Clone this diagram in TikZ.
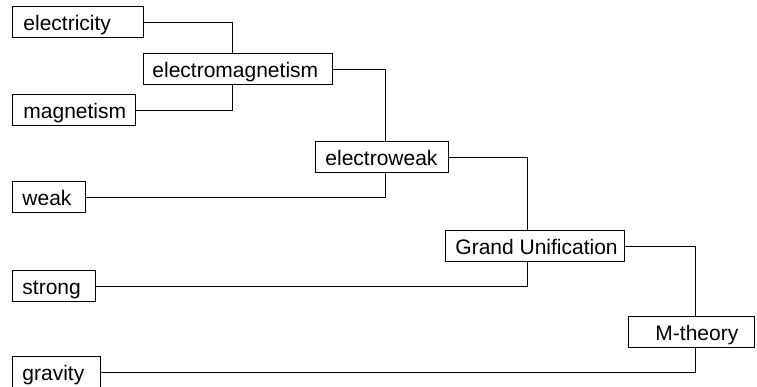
\documentclass[tikz,border=0pt]{standalone}
\usepackage{fontspec}
\setmainfont{Liberation Sans}
\newcommand\boxtext[3]{\makebox[#1pt][l]{\hspace*{#2pt}#3}}
\begin{document}
\begin{tikzpicture}[x=1pt,y=-1pt,
  box/.style={draw, line width=0.9pt, anchor=west, minimum height=31pt, inner ysep=0pt,
    inner xsep=0pt, text height=17pt, text depth=0.6pt,
    font=\fontsize{21}{25}\selectfont, fill=white},
  wire/.style={line width=0.9pt}]
\useasboundingbox (0,0) rectangle (757,386);
\begin{scope}
\clip (0,0) rectangle (757,386);
% junction x positions
\coordinate (jem) at (232,0);
\coordinate (jew) at (385,0);
\coordinate (jgu) at (527,0);
\coordinate (jmt) at (695,0);
\node[box] (electricity) at (12,22) {\boxtext{131}{11}{electricity}};
\node[box] (em) at (143,69) {\boxtext{189}{9}{electromagnetism}};
\node[box] (magnetism) at (12,110) {\boxtext{123}{11}{magnetism}};
\node[box] (ew) at (315,157) {\boxtext{133}{10}{electroweak}};
\node[box] (weak) at (12,197) {\boxtext{73}{10}{weak}};
\node[box] (gu) at (445,246) {\boxtext{179}{10}{Grand Unification}};
\node[box] (strong) at (12,286) {\boxtext{83}{10}{strong}};
\node[box] (mt) at (628,332) {\boxtext{126}{27}{M-theory}};
\node[box] (gravity) at (12,372) {\boxtext{88}{10}{gravity}};
\draw[wire] (electricity.east) -| (jem |- em.north);
\draw[wire] (magnetism.east) -| (jem |- em.south);
\draw[wire] (em.east) -| (jew |- ew.north);
\draw[wire] (weak.east) -| (jew |- ew.south);
\draw[wire] (ew.east) -| (jgu |- gu.north);
\draw[wire] (strong.east) -| (jgu |- gu.south);
\draw[wire] (gu.east) -| (jmt |- mt.north);
\draw[wire] (gravity.east) -| (jmt |- mt.south);
\end{scope}
\end{tikzpicture}
\end{document}
